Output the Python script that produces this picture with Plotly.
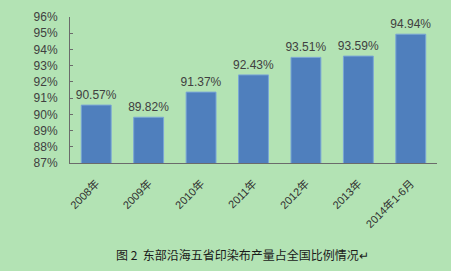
import plotly.graph_objects as go

categories = ["2008年", "2009年", "2010年", "2011年", "2012年", "2013年", "2014年1-6月"]
values = [90.57, 89.82, 91.37, 92.43, 93.51, 93.59, 94.94]
labels = ["90.57%", "89.82%", "91.37%", "92.43%", "93.51%", "93.59%", "94.94%"]
tick_vals = [87, 88, 89, 90, 91, 92, 93, 94, 95, 96]
tick_text = ["87%", "88%", "89%", "90%", "91%", "92%", "93%", "94%", "95%", "96%"]
caption = "图 2  东部沿海五省印染布产量占全国比例情况↵"

bg = "#b3e3b4"
fig = go.Figure(go.Bar(
    x=categories, y=values, text=labels, textposition="outside",
    constraintext="none",
    textfont=dict(size=12, color="#404040", family="Liberation Sans, Noto Sans CJK SC"),
    marker=dict(color="#4f7fbd", line=dict(color="#7aa6d6", width=1)),
    width=0.57, cliponaxis=False,
))
fig.update_layout(
    width=451, height=271,
    margin=dict(l=70, r=14, t=10, b=108),
    paper_bgcolor=bg, plot_bgcolor=bg,
    showlegend=False,
    font=dict(family="Liberation Sans, Noto Sans CJK SC", size=11, color="#404040"),
    annotations=[dict(text=caption, xref="paper", yref="paper", x=0.471, y=-0.63,
                      xanchor="center", yanchor="middle", showarrow=False,
                      font=dict(size=12, color="#1a1a1a", family="Noto Sans CJK SC"))],
)
fig.update_yaxes(range=[87, 96], tickvals=tick_vals, ticktext=tick_text,
                 showgrid=False, zeroline=False, showline=True, linecolor="#6b6b6b",
                 linewidth=1, ticks="inside", ticklen=3, tickcolor="#6b6b6b",
                 ticklabelstandoff=9,
                 tickfont=dict(size=12, color="#404040"))
fig.update_xaxes(showgrid=False, showline=True, linecolor="#6b6b6b", linewidth=1,
                 tickangle=-45, ticks="", ticklabelstandoff=9,
                 tickfont=dict(size=11, color="#303030"))
fig.write_html("out.html")
